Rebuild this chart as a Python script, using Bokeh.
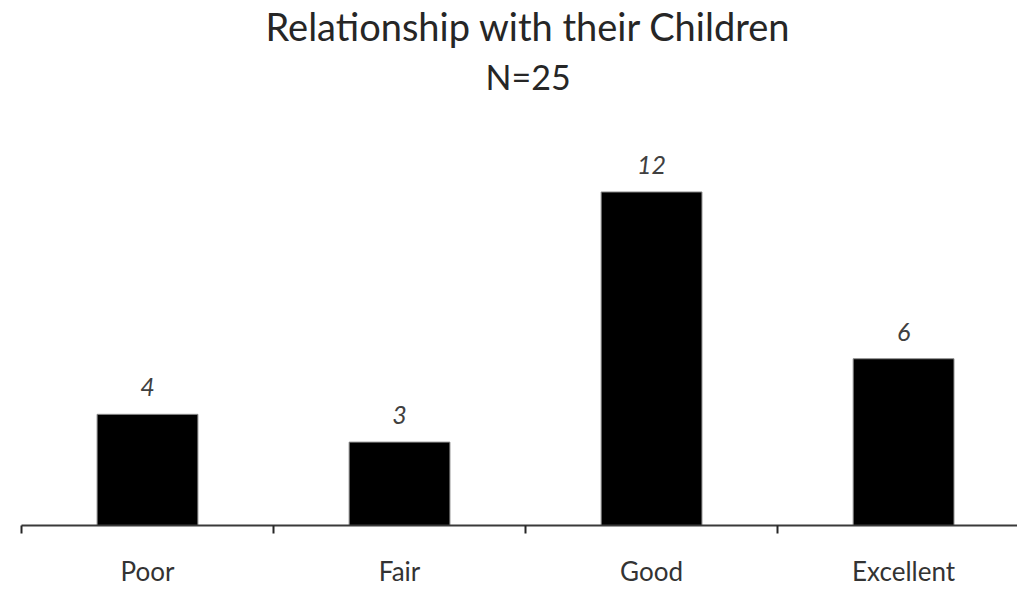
from bokeh.plotting import figure
from bokeh.models import Range1d, FixedTicker, Title, ColumnDataSource, LabelSet
from bokeh.core.properties import value
from bokeh.embed import file_html
from bokeh.resources import INLINE

categories = ["Poor", "Fair", "Good", "Excellent"]
counts = [4, 3, 12, 6]
title_line1 = "Relationship with their Children"
title_line2 = "N=25"

FONT = "Lato"

centers = [i + 0.5 for i in range(len(categories))]
bounds = [float(i) for i in range(len(categories) + 1)]

src = ColumnDataSource(dict(x=centers, top=counts, label=[str(c) for c in counts]))

p = figure(width=1017, height=589, output_backend="svg", toolbar_location=None,
           x_range=Range1d(0, 3.952), y_range=Range1d(0, 14.5),
           min_border_left=21, min_border_right=0, min_border_top=1, min_border_bottom=0)
p.outline_line_color = None
p.grid.visible = False
p.yaxis.visible = False
p.background_fill_color = "white"
p.border_fill_color = "white"

p.vbar(x="x", top="top", width=0.4, source=src, fill_color="black",
       line_color="#8c8c8c", line_width=1)

labels = LabelSet(x="x", y="top", text="label", source=src, text_align="center",
                  text_baseline="alphabetic", y_offset=18, text_font=value(FONT),
                  text_font_size="25px", text_font_style="italic", text_color="#404040")
p.add_layout(labels)

ax = p.xaxis[0]
ax.ticker = FixedTicker(ticks=centers, minor_ticks=bounds)
ax.major_label_overrides = {c: n for c, n in zip(centers, categories)}
ax.major_tick_line_color = None
ax.major_tick_out = 0
ax.major_tick_in = 0
ax.minor_tick_out = 8
ax.minor_tick_in = 0
ax.minor_tick_line_color = "#262626"
ax.minor_tick_line_width = 2
ax.axis_line_color = "#3a3a3a"
ax.axis_line_width = 2
ax.major_label_text_font = FONT
ax.major_label_text_font_size = "26px"
ax.major_label_text_color = "#333333"
ax.major_label_standoff = 21

p.add_layout(Title(text=" ", align="center", text_font=FONT, text_font_size="1px",
                   standoff=18), "above")
p.add_layout(Title(text=title_line2, align="left", offset=464, text_font=FONT,
                   text_font_size="34px", text_font_style="normal", text_color="#262626",
                   standoff=10), "above")
p.add_layout(Title(text=title_line1, align="left", offset=244, text_font=FONT,
                   text_font_size="38px", text_font_style="normal", text_color="#262626",
                   standoff=0), "above")

open("out.html", "w").write(file_html(p, INLINE))
